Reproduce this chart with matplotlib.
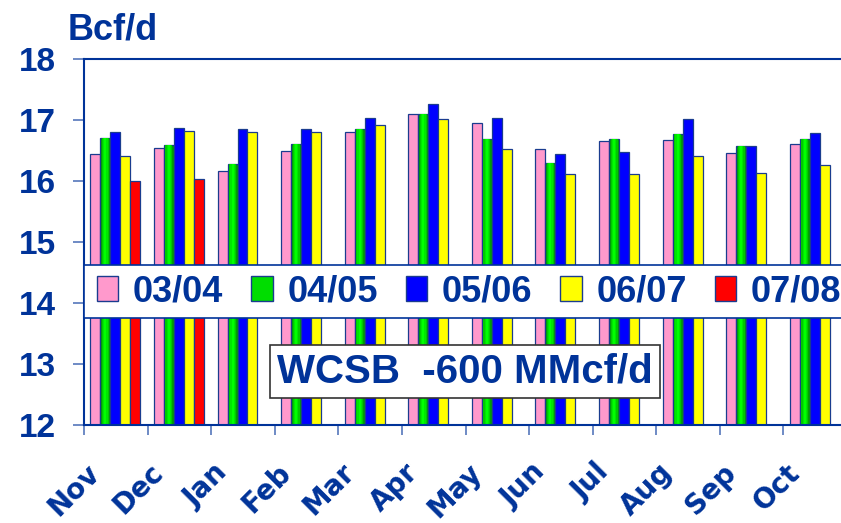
import matplotlib
matplotlib.use('Agg')
import matplotlib.pyplot as plt
import matplotlib.transforms as mtransforms
from matplotlib.patches import Patch, Rectangle

# monthly supply, Bcf/d
months = ['Nov', 'Dec', 'Jan', 'Feb', 'Mar', 'Apr', 'May', 'Jun', 'Jul', 'Aug', 'Sep', 'Oct']
s0304 = [16.44, 16.55, 16.16, 16.49, 16.81, 17.11, 16.96, 16.53, 16.66, 16.68, 16.46, 16.61]
s0405 = [16.71, 16.59, 16.29, 16.61, 16.85, 17.11, 16.70, 16.30, 16.70, 16.78, 16.58, 16.70]
s0506 = [16.81, 16.87, 16.85, 16.85, 17.03, 17.26, 17.03, 16.44, 16.48, 17.02, 16.57, 16.79]
s0607 = [16.42, 16.83, 16.81, 16.81, 16.92, 17.02, 16.53, 16.11, 16.12, 16.42, 16.14, 16.26]
s0708 = [16.01, 16.03]
seasons = ['03/04', '04/05', '05/06', '06/07', '07/08']
yticks = [12, 13, 14, 15, 16, 17, 18]

navy = '#003399'
edge = '#1a3c8f'
colors = ['#ff99cc', '#00a000', '#0000ff', '#ffff00', '#ff0000']

fig = plt.figure(figsize=(8.41, 5.23), dpi=100)
ax = fig.add_axes([0.0999, 0.1874, 0.9073, 0.6992])

bw = 0.157
x0 = [i + 0.1 for i in range(len(months))]
series = [s0304, s0405, s0506, s0607, s0708]
for k, vals in enumerate(series):
    xs = [x0[i] + k * bw for i in range(len(vals))]
    ax.bar(xs, vals, width=bw, align='edge', color=colors[k],
           edgecolor=edge, linewidth=0.9, zorder=2)
    if k == 1:
        # green bars have a lighter centre
        for frac, c in [(0.7, '#00c800'), (0.45, '#00e600'), (0.2, '#00ff00')]:
            xi = [x + bw * (1 - frac) / 2 for x in xs]
            ax.bar(xi, vals, width=bw * frac, align='edge', color=c,
                   linewidth=0, zorder=2.1)

ax.set_xlim(0, 12)
ax.set_ylim(12, 18)
ax.set_yticks(yticks)
ax.set_yticklabels([str(v) for v in yticks], fontsize=24, fontweight='bold',
                   color=navy, family='Liberation Sans')
ax.tick_params(axis='y', length=8, width=1.2, color='#5577bb', pad=12)

ax.set_xticks(range(13))
ax.set_xticklabels([])
ax.tick_params(axis='x', which='major', length=7.5, width=1.2, color='#5577bb')
ax.set_xticks([i + 0.5 for i in range(12)], minor=True)
ax.set_xticklabels(months, minor=True, rotation=45, ha='right', va='top',
                   fontsize=20, fontweight='bold', color=navy, family='DejaVu Sans')
ax.tick_params(axis='x', which='minor', length=0, pad=24)
shift = mtransforms.ScaledTranslation(-10 / 100, 0, fig.dpi_scale_trans)
for lab in ax.get_xticklabels(minor=True):
    lab.set_transform(lab.get_transform() + shift)

for side in ['left', 'top', 'bottom']:
    ax.spines[side].set_color(navy)
    ax.spines[side].set_linewidth(1.5)
ax.spines['right'].set_visible(False)

# legend band across the plot
ly0, lh = 0.292, 0.145
ax.add_patch(Rectangle((0, ly0), 1.02, lh, transform=ax.transAxes, facecolor='white',
                       edgecolor=navy, linewidth=1.2, zorder=4, clip_on=False))
legend_colors = ['#ff99cc', '#00dd00', '#0000ff', '#ffff00', '#ff0000']
handles = [Patch(facecolor=c, edgecolor=edge, linewidth=1) for c in legend_colors]
leg = ax.legend(handles, seasons, ncol=5, mode='expand', loc='center',
                bbox_to_anchor=(0.012, ly0, 0.985, lh), frameon=False,
                handlelength=0.6, handleheight=0.65, handletextpad=0.4,
                borderpad=0.1, borderaxespad=0,
                prop={'family': 'Liberation Sans', 'weight': 'bold', 'size': 26})
leg.set_zorder(5)
for t in leg.get_texts():
    t.set_color(navy)

ax.text(5.99, 12.88, 'WCSB  -600 MMcf/d', ha='center', va='center',
        fontsize=29, fontweight='bold', color=navy, family='Liberation Sans', zorder=6,
        bbox=dict(boxstyle='square,pad=0.18', facecolor='white', edgecolor='#333333',
                  linewidth=1.2))

fig.text(68 / 841, 1 - 39 / 523, 'Bcf/d', ha='left', va='baseline', fontsize=26,
         fontweight='bold', color=navy, family='Liberation Sans')

fig.savefig('out.png', dpi=100)
